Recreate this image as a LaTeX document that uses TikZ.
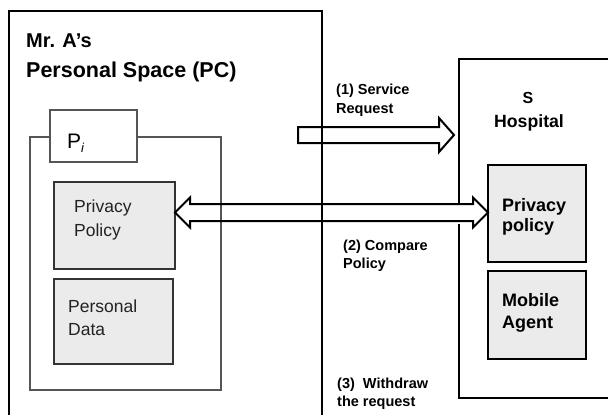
\documentclass[tikz,border=0pt]{standalone}
\usepackage{fontspec}
\setmainfont{Liberation Sans}
\usetikzlibrary{calc}
\definecolor{boxgray}{HTML}{EBEBEB}
\definecolor{edgegray}{HTML}{555555}
\definecolor{darkedge}{HTML}{333333}
\definecolor{txtgray}{HTML}{222222}
\begin{document}
\begin{tikzpicture}[x=1pt,y=-1pt,
  frame/.style={draw=black,line width=2pt},
  boxnode/.style={draw=#1,line width=2pt,fill=boxgray,anchor=north west,inner sep=0pt,outer sep=0pt},
  txt/.style={anchor=base west,inner sep=0pt},
  lbl/.style={txt,font=\fontsize{14.5}{17}\selectfont\bfseries},
  bigarrow/.style={draw=black,line width=2pt,line join=miter}]
\useasboundingbox (0,0) rectangle (608,415);

% left personal space frame (cut at bottom)
\draw[frame] (9,415) -- (9,11) -- (322,11) -- (322,415);
\node[txt,font=\fontsize{20}{24}\selectfont\bfseries] (t1) at (26,47) {Mr. A’s};
\node[txt,font=\fontsize{21.5}{26}\selectfont\bfseries] (t2) at (26,77) {Personal Space (PC)};

% P_i container
\node[draw=edgegray,line width=2pt,anchor=north west,inner sep=0pt,outer sep=0pt,
      minimum width=191pt,minimum height=253pt] (pibox) at (30,137) {};
\node[draw=edgegray,line width=2pt,fill=white,anchor=north west,inner sep=0pt,outer sep=0pt,
      minimum width=87pt,minimum height=52pt] (pitab) at (50,110) {};
\node[txt,font=\fontsize{21}{25}\selectfont] (pil) at (67,148)
  {P\raisebox{-4pt}{\fontsize{13}{13}\selectfont\itshape i}};

\node[boxnode=darkedge,minimum width=121pt,minimum height=87pt] (ppl) at (54,182) {};
\node[txt,font=\fontsize{17.5}{21}\selectfont,text=txtgray] (ppl1) at (74,212) {Privacy};
\node[txt,font=\fontsize{17.5}{21}\selectfont,text=txtgray] (ppl2) at (74,236) {Policy};

\node[boxnode=darkedge,minimum width=119pt,minimum height=85pt] (pdata) at (54,279) {};
\node[txt,font=\fontsize{17.5}{21}\selectfont,text=txtgray] (pd1) at (68,312) {Personal};
\node[txt,font=\fontsize{17.5}{21}\selectfont,text=txtgray] (pd2) at (68,335) {Data};

% hospital frame (cut at right)
\draw[frame] (609,59) -- (459,59) -- (459,203);
\draw[frame] (459,224) -- (459,398) -- (609,398);
\node[anchor=base,inner sep=0pt,font=\fontsize{16}{19}\selectfont\bfseries] (hs) at (528,103) {S};
\node[anchor=base,inner sep=0pt,font=\fontsize{17.7}{21}\selectfont\bfseries] (hh) at (529,127) {Hospital};

\node[boxnode=black,minimum width=98pt,minimum height=97pt] (ppr) at (488,165) {};
\node[txt,font=\fontsize{18}{21}\selectfont\bfseries] (ppr1) at (502,211) {Privacy};
\node[txt,font=\fontsize{18}{21}\selectfont\bfseries] (ppr2) at (502,231) {policy};

\node[boxnode=black,minimum width=98pt,minimum height=88pt] (magent) at (488,271) {};
\node[txt,font=\fontsize{18}{21}\selectfont\bfseries] (ma1) at (502,306) {Mobile};
\node[txt,font=\fontsize{18}{21}\selectfont\bfseries] (ma2) at (502,328) {Agent};

% labels
\node[lbl] (l1a) at (336,94) {(1) Service};
\node[lbl] (l1b) at (336,113) {Request};
\node[lbl] (l2a) at (343,250) {(2) Compare};
\node[lbl] (l2b) at (343,268) {Policy};
\node[lbl] (l3a) at (337,388) {(3)\ \ Withdraw};
\node[lbl] (l3b) at (337,406) {the request};

% (1) service request arrow
\coordinate (a1s) at (298,135);
\coordinate (a1t) at (454,135);
\draw[bigarrow] ($(a1s)+(0,-8)$) -- ($(a1t)+(-15,-8)$) -- ($(a1t)+(-15,-17)$) -- (a1t)
  -- ($(a1t)+(-15,17)$) -- ($(a1t)+(-15,8)$) -- ($(a1s)+(0,8)$) -- cycle;

% (2) compare policy double arrow, from ppl to ppr
\coordinate (a2l) at ($(ppl.north east)+(0,30.5)$);
\coordinate (a2r) at ($(ppr.north west)+(0,47.5)$);
\draw[bigarrow] (a2l) -- ($(a2l)+(15,-15)$) -- ($(a2l)+(15,-8.5)$) -- ($(a2r)+(-15,-8.5)$)
  -- ($(a2r)+(-15,-15)$) -- (a2r) -- ($(a2r)+(-15,15)$) -- ($(a2r)+(-15,8.5)$)
  -- ($(a2l)+(15,8.5)$) -- ($(a2l)+(15,15)$) -- cycle;
\end{tikzpicture}
\end{document}
